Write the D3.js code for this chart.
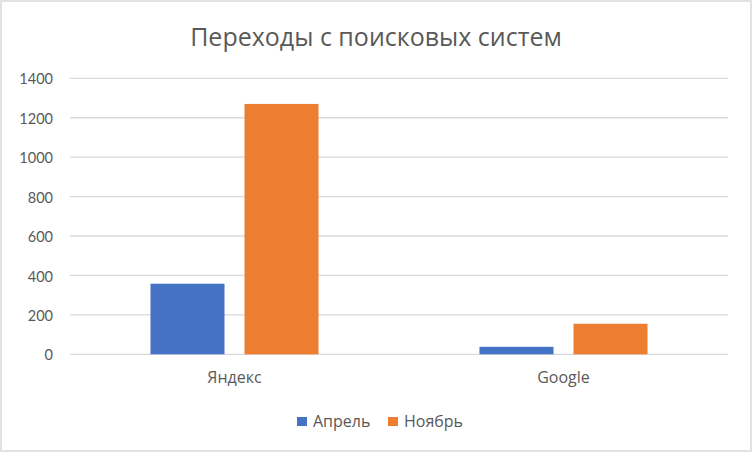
<!DOCTYPE html>
<html>
<head>
<meta charset="utf-8">
<script src="https://cdn.jsdelivr.net/npm/d3@7"></script>
<style>
  body { margin: 0; background: #fff; }
  svg { display: block; font-family: "Open Sans", Lato, sans-serif; }
</style>
</head>
<body>
<svg id="chart"></svg>
<script>
const categories = ['Яндекс', 'Google'];
const seriesNames = ['Апрель', 'Ноябрь'];
const april = [358, 38];
const november = [1270, 155];
const yTicks = [0, 200, 400, 600, 800, 1000, 1200, 1400];
const colors = ['#4472c4', '#ed7d31'];

const W = 752, H = 452;
const TEXT_FONT = '"Open Sans", Lato, sans-serif';
const NUM_FONT = 'Lato, "Open Sans", sans-serif';
const svg = d3.select('#chart').attr('width', W).attr('height', H);

// chart area border
svg.append('rect')
  .attr('x', 1).attr('y', 1)
  .attr('width', W - 2).attr('height', H - 2)
  .attr('fill', '#fff')
  .attr('stroke', '#d9d9d9')
  .attr('stroke-width', 1.5);

svg.append('text')
  .attr('x', 376).attr('y', 46)
  .attr('text-anchor', 'middle')
  .attr('font-size', 25)
  .attr('fill', '#595959')
  .attr('font-family', TEXT_FONT)
  .text('Переходы с поисковых систем');

const x0 = d3.scaleBand().domain(categories).range([70, 728]);
const x1 = d3.scaleBand().domain(seriesNames)
  .range([0, x0.bandwidth()])
  .paddingInner(0.2128)
  .paddingOuter(0.856);
const y = d3.scaleLinear().domain([0, 1400]).range([354.3, 78.3]);

// gridlines
svg.append('g')
  .selectAll('line')
  .data(yTicks)
  .join('line')
  .attr('x1', 70).attr('x2', 728)
  .attr('y1', (d) => y(d)).attr('y2', (d) => y(d))
  .attr('stroke', '#d9d9d9')
  .attr('stroke-width', 1.3);

// y axis labels
const yAxis = svg.append('g')
  .attr('transform', 'translate(53,1)')
  .call(d3.axisLeft(y).tickValues(yTicks).tickFormat(d3.format('d')).tickSize(0).tickPadding(0));
yAxis.select('.domain').remove();
yAxis.selectAll('text')
  .attr('font-size', 14.5)
  .attr('fill', '#595959')
  .attr('font-family', NUM_FONT);

const rows = categories.map((c, i) => ({ cat: c, vals: [april[i], november[i]] }));

const groups = svg.append('g')
  .selectAll('g')
  .data(rows)
  .join('g')
  .attr('transform', (d) => `translate(${x0(d.cat)},0)`);

groups.selectAll('rect')
  .data((d) => d.vals.map((v, j) => ({ name: seriesNames[j], v, j })))
  .join('rect')
  .attr('x', (d) => x1(d.name))
  .attr('width', x1.bandwidth())
  .attr('y', (d) => y(d.v))
  .attr('height', (d) => y(0) - y(d.v))
  .attr('fill', (d) => colors[d.j]);

// category axis
const xAxis = svg.append('g')
  .attr('transform', 'translate(0,372)')
  .call(d3.axisBottom(x0).tickSize(0).tickPadding(0));
xAxis.select('.domain').remove();
xAxis.selectAll('text')
  .attr('font-size', 16)
  .attr('fill', '#595959')
  .attr('font-family', TEXT_FONT);

// legend
const legend = svg.append('g').attr('transform', 'translate(297,417)');
const legendX = [0, 91];
seriesNames.forEach((name, i) => {
  const g = legend.append('g').attr('transform', `translate(${legendX[i]},0)`);
  g.append('rect').attr('width', 10).attr('height', 9).attr('fill', colors[i]);
  g.append('text')
    .attr('x', 16).attr('y', 10)
    .attr('font-size', 16)
    .attr('fill', '#595959')
    .attr('font-family', TEXT_FONT)
    .text(name);
});
</script>
</body>
</html>
